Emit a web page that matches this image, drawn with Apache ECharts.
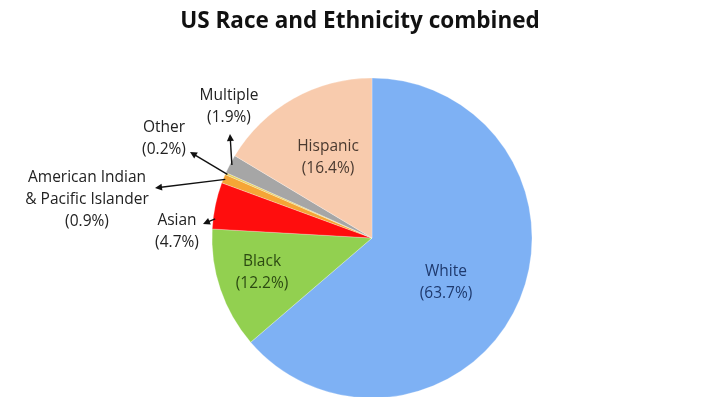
<!DOCTYPE html>
<html>
<head>
<meta charset="utf-8">
<script src="https://cdn.jsdelivr.net/npm/echarts@6/dist/echarts.min.js"></script>
<style>
html, body { margin: 0; padding: 0; background: #fff; }
#main { width: 720px; height: 397px; }
</style>
</head>
<body>
<div id="main"></div>
<script>
var groups = ['White', 'Black', 'Asian', 'American Indian\n& Pacific Islander', 'Other', 'Multiple', 'Hispanic'];
var shares = [63.7, 12.2, 4.7, 0.9, 0.2, 1.9, 16.4];

var sliceColors = ['#7eb1f4', '#92d050', '#ff0d0d', '#f5a536', '#e8cf5a', '#a6a6a6', '#f8cbad'];
var textColors = ['#1f3a6e', '#2c4a12', '#222', '#222', '#222', '#222', '#4a3a30'];
// label centres, and arrow tips for the labels outside the pie
var labelPos = [[446, 283], [262, 273], [177, 232], [87, 200], [164, 139], [229, 107], [328, 158]];
var arrowTip = [null, null, [203, 224], [155, 188], [190, 152], [230, 134], null];
// where along the slice the arrow starts (0 = start edge, 1 = end edge)
var arrowFrom = [0.5, 0.5, 0.22, 0.5, 0.5, 0.5, 0.5];

var cx = 372, cy = 238, r = 160;

function loadPie() {
	var chart = echarts.init(document.getElementById('main'));

	var total = 0;
	shares.forEach(function (v) { total += v; });

	var data = groups.map(function (g, i) {
		return {
			name: g,
			value: shares[i],
			itemStyle: { color: sliceColors[i] },
			label: { color: textColors[i] }
		};
	});

	// arrows from the slice edge to the label
	var graphics = [];
	var acc = 0;
	shares.forEach(function (v, i) {
		var ang = (acc + v * arrowFrom[i]) / total * Math.PI * 2;
		acc += v;
		if (!arrowTip[i]) return;
		var sx = cx + (r - 2) * Math.sin(ang), sy = cy - (r - 2) * Math.cos(ang);
		var tx = arrowTip[i][0], ty = arrowTip[i][1];
		var len = Math.sqrt((tx - sx) * (tx - sx) + (ty - sy) * (ty - sy));
		var dx = (tx - sx) / len, dy = (ty - sy) / len;
		graphics.push({
			type: 'line',
			shape: { x1: sx, y1: sy, x2: tx - dx * 4, y2: ty - dy * 4 },
			style: { stroke: '#111', lineWidth: 1.4 },
			z: 100
		});
		graphics.push({
			type: 'polygon',
			shape: {
				points: [
					[tx, ty],
					[tx - dx * 7 - dy * 3.5, ty - dy * 7 + dx * 3.5],
					[tx - dx * 7 + dy * 3.5, ty - dy * 7 - dx * 3.5]
				]
			},
			style: { fill: '#111' },
			z: 100
		});
	});

	var option = {
		backgroundColor: '#fff',
		animation: false,
		title: {
			text: 'US Race and Ethnicity combined',
			left: 'center',
			top: 5,
			textStyle: {
				fontFamily: 'Open Sans',
				fontSize: 22.5,
				fontWeight: 'bold',
				color: '#111'
			}
		},
		graphic: graphics,
		series: [{
			type: 'pie',
			center: [cx, cy],
			radius: r,
			startAngle: 90,
			clockwise: true,
			avoidLabelOverlap: false,
			data: data,
			itemStyle: {
				borderColor: 'rgba(255,255,255,0.5)',
				borderWidth: 0.5
			},
			label: {
				show: true,
				position: 'outside',
				fontFamily: 'Open Sans',
				fontSize: 15.5,
				lineHeight: 22,
				align: 'center',
				formatter: function (p) {
					return p.name + '\n(' + p.value + '%)';
				}
			},
			labelLine: { show: false },
			labelLayout: function (params) {
				var p = labelPos[params.dataIndex];
				return { x: p[0], y: p[1], align: 'center', verticalAlign: 'middle' };
			},
			emphasis: { disabled: true }
		}]
	};
	chart.setOption(option);
}

loadPie();
</script>
</body>
</html>
